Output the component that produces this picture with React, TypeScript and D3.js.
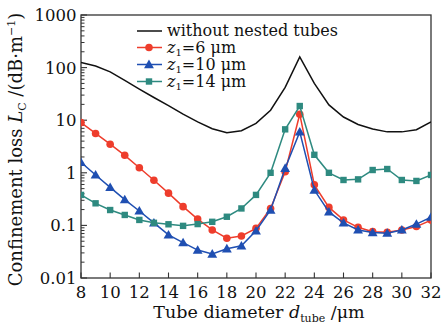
import React from "react";
import * as d3 from "d3";

const tubeDiameters = [8, 9, 10, 11, 12, 13, 14, 15, 16, 17, 18, 19, 20, 21, 22, 23, 24, 25, 26, 27, 28, 29, 30, 31, 32];

const withoutNested = [125, 107, 83, 57, 39, 27, 19, 13, 9.3, 6.9, 5.8, 6.3, 8.7, 15.5, 42, 160, 50, 19.5, 11.5, 8.3, 6.8, 6.0, 6.0, 6.6, 9.3];
const z1_6 = [9.0, 5.6, 3.5, 2.15, 1.25, 0.72, 0.41, 0.227, 0.132, 0.082, 0.057, 0.063, 0.088, 0.21, 1.05, 13, 0.59, 0.22, 0.127, 0.092, 0.076, 0.074, 0.082, 0.095, 0.126];
const z1_10 = [1.58, 0.91, 0.53, 0.31, 0.188, 0.112, 0.066, 0.047, 0.034, 0.0286, 0.036, 0.041, 0.079, 0.196, 1.22, 6.0, 0.47, 0.18, 0.112, 0.082, 0.073, 0.071, 0.082, 0.106, 0.143];
const z1_14 = [0.38, 0.263, 0.196, 0.158, 0.127, 0.112, 0.105, 0.098, 0.106, 0.117, 0.146, 0.21, 0.38, 1.0, 6.7, 18.6, 2.2, 1.0, 0.73, 0.75, 1.13, 1.18, 0.73, 0.70, 0.91];

const xTicks = [8, 10, 12, 14, 16, 18, 20, 22, 24, 26, 28, 30, 32];
const yTicks = [0.01, 0.1, 1, 10, 100, 1000];
const yTickLabels = ["0.01", "0.1", "1", "10", "100", "1000"];

const seriesNames = ["6", "10", "14"];

const W = 443;
const H = 327;
const L = 81, R = 431, T = 15, B = 278;
const FONT = "'DejaVu Serif', serif";

const RED = "#ee3d2c";
const BLUE = "#1f4fb2";
const TEAL = "#2e8a80";

function Marker({ kind, x, y, color }: { kind: string; x: number; y: number; color: string }) {
  if (kind === "circle") return <circle cx={x} cy={y} r={3.8} fill={color} />;
  if (kind === "triangle") {
    const s = d3.symbol().type(d3.symbolTriangle).size(42)();
    return <path d={s || ""} transform={`translate(${x},${y + 0.8})`} fill={color} />;
  }
  return <rect x={x - 3.2} y={y - 3.2} width={6.4} height={6.4} fill={color} />;
}

export default function App() {
  const x = d3.scaleLinear().domain([8, 32]).range([L, R]);
  const y = d3.scaleLog().domain([0.01, 1000]).range([B, T]);
  const line = d3
    .line<number>()
    .x((_, i) => x(tubeDiameters[i]))
    .y((v) => y(v));

  const series = [
    { vals: z1_6, color: RED, kind: "circle" },
    { vals: z1_10, color: BLUE, kind: "triangle" },
    { vals: z1_14, color: TEAL, kind: "square" },
  ];

  const minor: number[] = [];
  for (let e = -2; e < 3; e++) for (let k = 2; k <= 9; k++) minor.push(k * Math.pow(10, e));

  const legendRows = [31, 47.5, 64.5, 81.5];

  return (
    <svg
      width={W}
      height={H}
      style={{ position: "absolute", left: 0, top: 0, background: "#fff" }}
      fontFamily={FONT}
    >
      <defs>
        <clipPath id="plot">
          <rect x={L} y={T} width={R - L} height={B - T} />
        </clipPath>
      </defs>
      <rect x={L} y={T} width={R - L} height={B - T} fill="none" stroke="#333" strokeWidth={1.3} />
      {yTicks.map((t) => (
        <line key={"ym" + t} x1={L} x2={L + 6} y1={y(t)} y2={y(t)} stroke="#333" strokeWidth={1.1} />
      ))}
      {minor.map((t) => (
        <line key={"yn" + t} x1={L} x2={L + 3.5} y1={y(t)} y2={y(t)} stroke="#333" strokeWidth={1} />
      ))}
      {yTicks.map((t, i) => (
        <text key={"yl" + t} x={L - 4.5} y={y(t)} dy="0.36em" textAnchor="end" fontSize={16.5} fill="#111">
          {yTickLabels[i]}
        </text>
      ))}
      {xTicks.map((t) => (
        <g key={"x" + t}>
          <line x1={x(t)} x2={x(t)} y1={B} y2={B - 5.5} stroke="#333" strokeWidth={1.1} />
          <text x={x(t)} y={298} textAnchor="middle" fontSize={16.5} fill="#111">
            {t}
          </text>
        </g>
      ))}
      <g clipPath="url(#plot)">
        <path d={line(withoutNested) || ""} fill="none" stroke="#111" strokeWidth={1.5} />
        {series.map((s, si) => (
          <g key={si}>
            <path d={line(s.vals) || ""} fill="none" stroke={s.color} strokeWidth={1.5} />
            {s.vals.map((v, i) => (
              <Marker key={i} kind={s.kind} x={x(tubeDiameters[i])} y={y(v)} color={s.color} />
            ))}
          </g>
        ))}
      </g>
      <g fontSize={16} fill="#111">
        <line x1={137} x2={162} y1={legendRows[0]} y2={legendRows[0]} stroke="#111" strokeWidth={1.5} />
        <text x={167} y={legendRows[0] + 5}>without nested tubes</text>
        {series.map((s, i) => (
          <g key={"lg" + i}>
            <line x1={137} x2={162} y1={legendRows[i + 1]} y2={legendRows[i + 1]} stroke={s.color} strokeWidth={1.5} />
            <Marker kind={s.kind} x={149} y={legendRows[i + 1]} color={s.color} />
            <text x={167} y={legendRows[i + 1] + 5}>
              <tspan fontStyle="italic">z</tspan>
              <tspan fontSize={10} dy={3}>1</tspan>
              <tspan dy={-3}>{"=" + seriesNames[i] + " μm"}</tspan>
            </text>
          </g>
        ))}
      </g>
      <text x={259} y={318} textAnchor="middle" fontSize={17.5} fill="#111">
        Tube diameter <tspan fontStyle="italic">d</tspan>
        <tspan fontSize={11} dy={4}>tube</tspan>
        <tspan dy={-4}> /μm</tspan>
      </text>
      <text
        transform={`translate(22,${(T + B) / 2 + 3}) rotate(-90)`}
        textAnchor="middle"
        fontSize={18}
        fill="#111"
      >
        Confinement loss <tspan fontStyle="italic">L</tspan>
        <tspan fontSize={11} dy={4}>C</tspan>
        <tspan dy={-4}> /(dB·m</tspan>
        <tspan fontSize={11} dy={-7}>−1</tspan>
        <tspan dy={7}>)</tspan>
      </text>
    </svg>
  );
}
